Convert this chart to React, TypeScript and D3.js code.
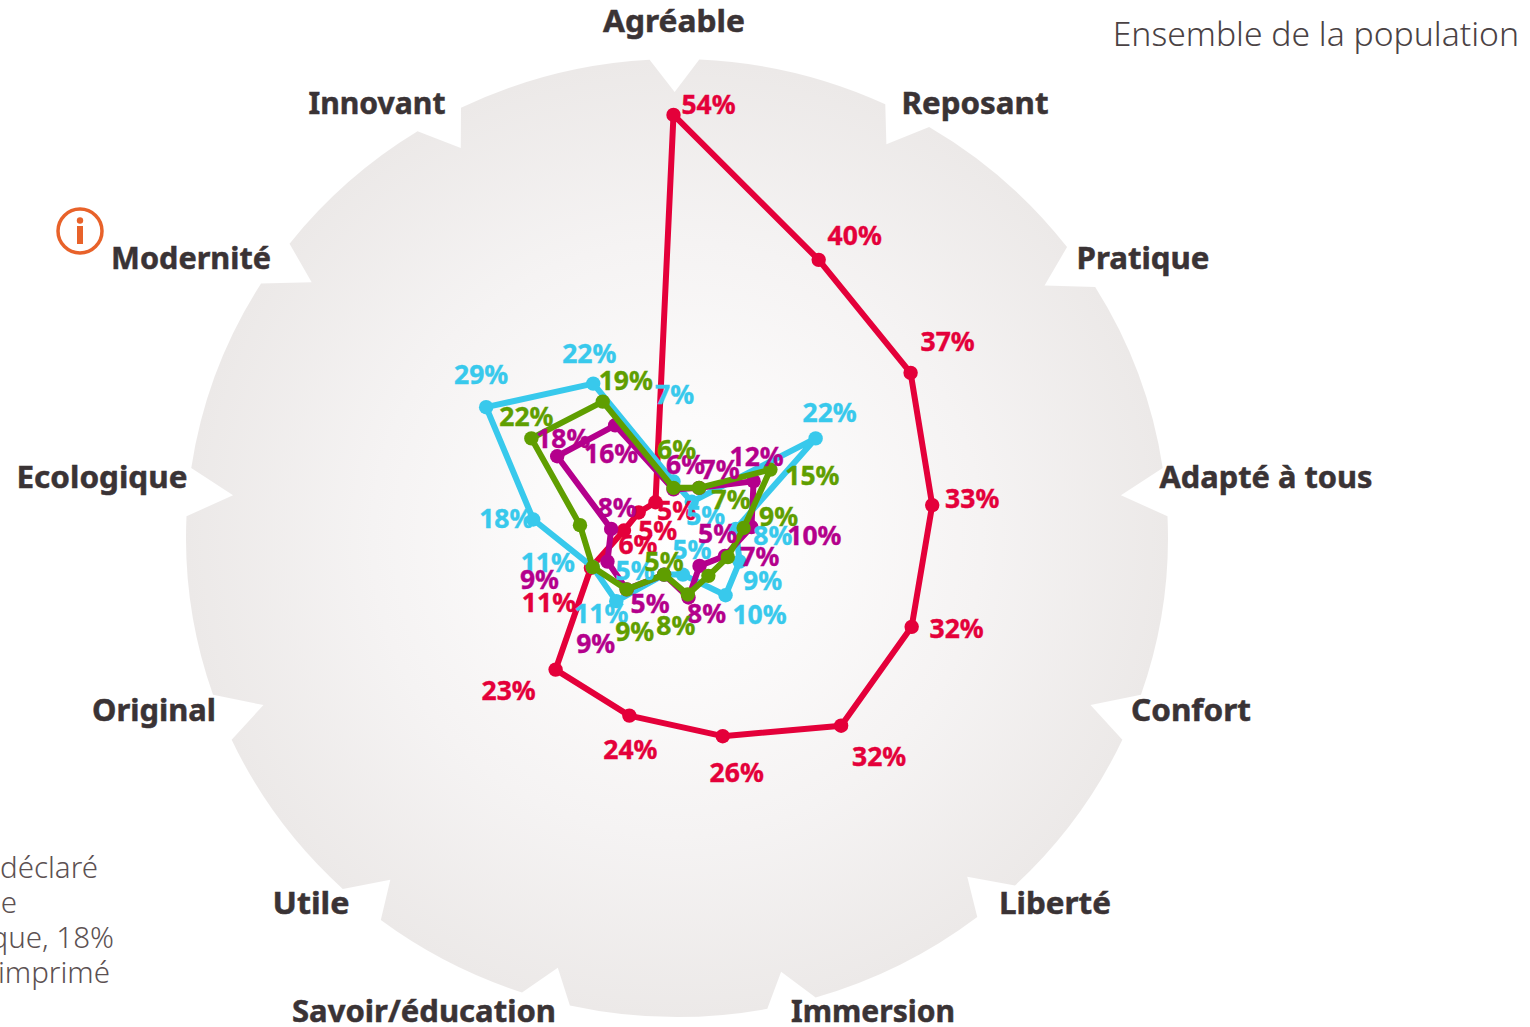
import React, { useEffect, useRef } from "react";
import * as d3 from "d3";

const axisNames = [
  "Agréable", "Reposant", "Pratique", "Adapté à tous", "Confort", "Liberté", "Immersion",
  "Savoir/éducation", "Utile", "Original", "Ecologique", "Modernité", "Innovant",
];

// values, in axis order
const redValues = [53.7, 39.8, 36.7, 33.2, 32.45, 32.2, 26.2, 23.5, 22.65, 11.25, 6.36, 5.39, 4.93];
const blueValues = [7, 5, 22, 8, 9, 10, 5, 5, 11, 11, 18, 29, 22];
const magentaValues = [6, 7, 12.4, 10, 7, 5, 8, 5, 9, 9, 8, 18, 16];
const greenValues = [6.2, 7, 15, 9, 7.4, 6.7, 7.6, 5, 9, 11, 12, 22, 19.4];

const noteLines = ["déclaré", "e", "que, 18%", "imprimé"];
const subtitle = "Ensemble de la population";

const svgWidth = 1530;
const svgHeight = 1027;
const center = { x: 673.5, y: 536.5 };
const pxPerPercent = 7.85;

// label nudges from each point, null when the original has no label
type Nudge = [number, number] | null;
const redNudges: Nudge[] = [[35, -11], [36, -24], [37, -31], [40, -7], [45, 2], [38, 31], [14, 36], [1, 34], [-47, 21], [-42, 35], [14, 14], [19, 18], [21, 8]];
const blueNudges: Nudge[] = [[1, -87], [14, 14], [14, -26], [37, 7], [23, 19], [34, 19], [9, -25], [-29, -4], [-15, 12], [-45, -5], [-27, -1], [-5, -33], [-4, -30]];
const magentaNudges: Nudge[] = [[12, -25], [21, -18], [3, -25], [63, 8], [35, 0], [18, -32], [18, 16], [-14, 29], [-31, 54], [-68, 18], [6, -21], [6, -18], [-4, 28]];
const greenNudges: Nudge[] = [[3, -38], [32, 12], [42, 6], [35, -12], null, null, [-12, 31], [0, -13], [8, 42], null, null, [-5, -22], [23, -21]];

const series = [
  { values: redValues, nudges: redNudges, color: "#e4003a" },
  { values: blueValues, nudges: blueNudges, color: "#38c9ec" },
  { values: magentaValues, nudges: magentaNudges, color: "#b4008c" },
  { values: greenValues, nudges: greenNudges, color: "#5f9e00" },
];

// where the axis names sit (centres) and how wide they run
const axisLabelPos = [
  [674, 21], [975, 103], [1143, 258], [1266, 477], [1191, 710], [1055, 903], [873, 1011],
  [424, 1011], [311, 903], [154, 710], [102, 477], [191, 258], [377, 103],
];
const axisLabelWidth = [142, 147, 133, 213, 120, 112, 164, 264, 77, 124, 171, 160, 137];

// background disc: notch directions in degrees
const notchAngles = [-0.3, 28, 55.5, 84.5, 112, 139.4, 166.5, 195.5, 220, 248, 275.5, 305, 331];
const disc = { x: 677, y: 538, rx: 491, ry: 479, tipR: 446, half: 2.9 };

const discPoint = (deg: number) => {
  const a = (deg * Math.PI) / 180;
  return [disc.x + disc.rx * Math.sin(a), disc.y - disc.ry * Math.cos(a)];
};

const discTip = (deg: number) => {
  const a = (deg * Math.PI) / 180;
  return [disc.x + disc.tipR * Math.sin(a), disc.y - disc.tipR * Math.cos(a)];
};

const discPath = () => {
  let d = "";
  notchAngles.forEach((deg, i) => {
    const [x0, y0] = discPoint(deg - disc.half);
    const [tx, ty] = discTip(deg);
    const [x1, y1] = discPoint(deg + disc.half);
    const next = notchAngles[(i + 1) % notchAngles.length] + (i === notchAngles.length - 1 ? 360 : 0);
    const [x2, y2] = discPoint(next - disc.half);
    d += i === 0 ? `M${x0},${y0}` : `L${x0},${y0}`;
    d += `L${tx},${ty}L${x1},${y1}A${disc.rx},${disc.ry} 0 0 1 ${x2},${y2}`;
  });
  return d + "Z";
};

const App = () => {
  const svgRef = useRef<SVGSVGElement>(null);

  useEffect(() => {
    const svg = d3.select(svgRef.current);
    svg.selectAll("*").remove();

    const gradient = svg
      .append("defs")
      .append("radialGradient")
      .attr("id", "discGradient");
    gradient.append("stop").attr("offset", "0%").attr("stop-color", "#ffffff");
    gradient.append("stop").attr("offset", "25%").attr("stop-color", "#fcfbfb");
    gradient.append("stop").attr("offset", "62%").attr("stop-color", "#f5f3f3");
    gradient.append("stop").attr("offset", "100%").attr("stop-color", "#ece9e8");

    svg.append("path").attr("d", discPath()).attr("fill", "url(#discGradient)");

    const angle = d3
      .scaleLinear()
      .domain([0, axisNames.length])
      .range([0, 2 * Math.PI]);
    const radius = d3
      .scaleLinear()
      .domain([0, 54])
      .range([0, 54 * pxPerPercent]);

    const line = d3
      .lineRadial<number>()
      .angle((d, i) => angle(i))
      .radius((d) => radius(d))
      .curve(d3.curveLinearClosed);

    const plot = svg.append("g").attr("transform", `translate(${center.x},${center.y})`);
    const px = (v: number, i: number) => radius(v) * Math.sin(angle(i));
    const py = (v: number, i: number) => -radius(v) * Math.cos(angle(i));

    series.forEach((s) => {
      plot
        .append("path")
        .attr("d", line(s.values))
        .attr("fill", "none")
        .attr("stroke", s.color)
        .attr("stroke-width", 6)
        .attr("stroke-linejoin", "round");
      plot
        .selectAll(null)
        .data(s.values)
        .enter()
        .append("circle")
        .attr("cx", px)
        .attr("cy", py)
        .attr("r", 7.2)
        .attr("fill", s.color);
    });

    // value labels go above every line
    series.forEach((s) => {
      s.values.forEach((v, i) => {
        const nudge = s.nudges[i];
        if (!nudge) return;
        plot
          .append("text")
          .attr("x", px(v, i) + nudge[0])
          .attr("y", py(v, i) + nudge[1])
          .attr("dy", "0.36em")
          .attr("text-anchor", "middle")
          .attr("font-family", "'Noto Sans'")
          .attr("font-weight", 700)
          .attr("font-size", 26.5)
          .attr("fill", s.color)
          .attr("stroke", s.color)
          .attr("stroke-width", 0.4)
          .text(`${Math.round(v)}%`);
      });
    });

    axisNames.forEach((name, i) => {
      svg
        .append("text")
        .attr("x", axisLabelPos[i][0])
        .attr("y", axisLabelPos[i][1])
        .attr("dy", "0.34em")
        .attr("text-anchor", "middle")
        .attr("font-family", "'Noto Sans'")
        .attr("font-weight", 700)
        .attr("font-size", 31)
        .attr("textLength", axisLabelWidth[i])
        .attr("lengthAdjust", "spacingAndGlyphs")
        .attr("fill", "#3a3335")
        .attr("stroke", "#3a3335")
        .attr("stroke-width", 0.5)
        .text(name);
    });

    svg
      .append("text")
      .attr("x", 1519)
      .attr("y", 46)
      .attr("text-anchor", "end")
      .attr("font-family", "'Noto Sans'")
      .attr("font-weight", 300)
      .attr("font-size", 33.7)
      .attr("fill", "#4a4244")
      .text(subtitle);

    const noteRight = [98, 17, 114, 110];
    noteLines.forEach((t, i) => {
      svg
        .append("text")
        .attr("x", noteRight[i])
        .attr("y", 878 + i * 35)
        .attr("text-anchor", "end")
        .attr("font-family", "'Noto Sans'")
        .attr("font-weight", 300)
        .attr("font-size", 29.5)
        .attr("fill", "#5c5152")
        .text(t);
    });

    // info icon
    const info = svg.append("g").attr("transform", "translate(80,231)");
    info
      .append("circle")
      .attr("r", 22)
      .attr("fill", "none")
      .attr("stroke", "#e8622a")
      .attr("stroke-width", 3.5);
    info.append("circle").attr("cy", -10.5).attr("r", 3.2).attr("fill", "#e8622a");
    info
      .append("rect")
      .attr("x", -3)
      .attr("y", -5)
      .attr("width", 6)
      .attr("height", 18)
      .attr("fill", "#e8622a");
  }, []);

  return (
    <svg
      ref={svgRef}
      width={svgWidth}
      height={svgHeight}
      style={{ position: "absolute", left: 0, top: 0, display: "block" }}
    />
  );
};

export default App;
